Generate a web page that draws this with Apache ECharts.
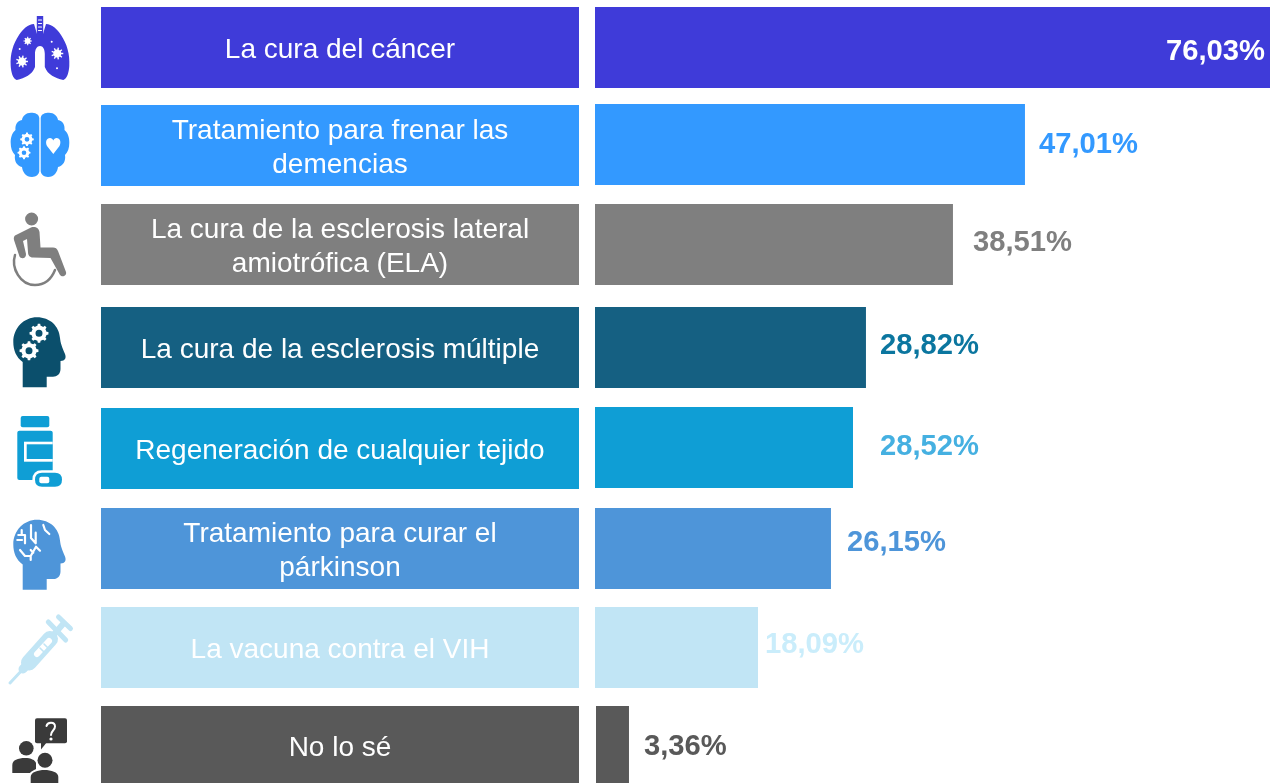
<!DOCTYPE html>
<html>
<head>
<meta charset="utf-8">
<title>La cura del cáncer</title>
<script src="https://cdn.jsdelivr.net/npm/echarts@6/dist/echarts.min.js"></script>
<style>
  html, body { margin: 0; padding: 0; background: #fff; }
  #chart { width: 1270px; height: 783px; }
</style>
</head>
<body>
<div id="chart"></div>
<script>
const categories = [
  'La cura del cáncer',
  'Tratamiento para frenar las\ndemencias',
  'La cura de la esclerosis lateral\namiotrófica (ELA)',
  'La cura de la esclerosis múltiple',
  'Regeneración de cualquier tejido',
  'Tratamiento para curar el\npárkinson',
  'La vacuna contra el VIH',
  'No lo sé'
]
// the printed percentages
const percentLabels = ['76,03%', '47,01%', '38,51%', '28,82%', '28,52%', '26,15%', '18,09%', '3,36%']
// bar lengths as drawn in the picture, they do not follow the printed numbers exactly
const barValues = [76.03, 48.43, 40.32, 30.52, 29.06, 26.58, 18.36, 3.72]
const axisMax = 76.03

// layout and colours per row
const panelTops = [7, 105, 204, 307, 408, 508, 607, 706]
const panelTextShifts = [3, 3, 3, 3, 3, 3, 3, 7] // the last grid gets cut at the page bottom
const barTops = [7, 104, 204, 307, 407, 508, 607, 706]
const barLefts = [595, 595, 595, 595, 595, 595, 595, 596]
const rowColors = ['#3f3bd9', '#3399ff', '#7f7f7f', '#156082', '#0f9ed5', '#4e95d9', '#c1e5f5', '#595959']
const labelColors = ['#ffffff', '#3399ff', '#7f7f7f', '#0b769f', '#45b0e1', '#4e95d9', '#caedfb', '#595959']
const labelGaps = [5, 14, 20, 14, 27, 16, 7, 15]
const labelShifts = [4, 0.5, -1.5, -1.5, -0.5, -6, -2.5, 2.5]

// icon helpers
const circle = (x, y, r) => `M${x - r} ${y}a${r} ${r} 0 1 0 ${2 * r} 0a${r} ${r} 0 1 0 ${-2 * r} 0Z`
const rrect = (x, y, w, h, r) =>
  `M${x + r} ${y}H${x + w - r}Q${x + w} ${y} ${x + w} ${y + r}V${y + h - r}Q${x + w} ${y + h} ${x + w - r} ${y + h}` +
  `H${x + r}Q${x} ${y + h} ${x} ${y + h - r}V${y + r}Q${x} ${y} ${x + r} ${y}Z`
const gear = (cx, cy, r, n, inner) => {
  let d = ''
  const step = Math.PI * 2 / n
  for (let i = 0; i < n; i++) {
    const a = i * step
    const pts = [[inner, a - step * 0.5], [inner, a - step * 0.27], [r, a - step * 0.16], [r, a + step * 0.16], [inner, a + step * 0.27]]
    pts.forEach((p, j) => {
      d += (i === 0 && j === 0 ? 'M' : 'L') + (cx + p[0] * Math.cos(p[1])).toFixed(2) + ' ' + (cy + p[0] * Math.sin(p[1])).toFixed(2)
    })
  }
  return d + 'Z'
}
const headPath = 'M22.7 387.3V362C16 357 13.3 350 13.3 342C13.3 328 24 317.3 37 317.3C50 317.3 59 326 60 338C60.5 343 62 347 65 354C66.5 358 65 361 60.5 361V369C60.5 374 57 376.7 53 376.7H46.7V387.3Z'

const fill = (d, color, y) => ({ d, fill: color, y: y || 0 })
const line = (d, color, width) => ({ d, stroke: color, width })

const iconLayers = [
  // lungs
  [
    fill('M46 24C52 24 57 29 61 35C67 44 70 54 69.3 66C69 72 67 79 63.3 80C55 78 48 75 44.8 67V54C44.8 49 43 46 40 46C37 46 35 49 35 54V67C32 75 25 78 16.7 80C13 79 11 72 10.7 66C10 54 13 44 19 35C23 29 28 24 34 24L37 34H43Z', '#3f3bd9'),
    fill('M36.8 16H43.2V38H36.8Z', '#3f3bd9'),
    line('M38.5 20H41.5M38.5 23.5H41.5M38.5 27H41.5M38.5 30.5H41.5', '#ffffff', 1.2),
    fill(gear(27.7, 41, 4.2, 8, 2.9), '#ffffff'),
    fill(gear(22, 61.5, 6, 9, 4), '#ffffff'),
    fill(gear(57.3, 53.5, 6, 9, 4), '#ffffff'),
    fill(circle(19.7, 49, 1) + circle(51.7, 41.7, 1) + circle(57, 68.3, 1), '#ffffff')
  ],
  // brain
  [
    fill('M39.3 118C39 114 35 112.7 31 112.7C26 112.7 22.5 116 22 120C17 121 15 125 15.5 130C12 133 10.5 138 10.7 143C10.7 148 12 152 15 155C14 161 17 166 22 167C22.5 172 26 177 32 177C36 177 39.3 174 39.3 171Z', '#3399ff'),
    fill('M40.7 118C41 114 45 112.7 49 112.7C54 112.7 57.5 116 58 120C63 121 65 125 64.5 130C68 133 69.5 138 69.3 143C69.3 148 68 152 65 155C66 161 63 166 58 167C57.5 172 54 177 48 177C44 177 40.7 174 40.7 171Z', '#3399ff'),
    fill(gear(27, 139.3, 6.8, 8, 5.4), '#ffffff'),
    fill(gear(24, 152.7, 6.5, 8, 5.2), '#ffffff'),
    fill(circle(27, 139.3, 2.4) + circle(24, 152.7, 2.3), '#3399ff'),
    fill('M53.3 154L47 146C45 142 46.5 138 50 138C51.5 138 52.8 139 53.3 140.5C53.8 139 55.1 138 56.6 138C60 138 61.5 142 59.5 146Z', '#ffffff')
  ],
  // wheelchair
  [
    fill(circle(31.6, 219, 6.5), '#7f7f7f'),
    fill('M15 235.5L31 227.5C35 226 39 228 39.5 232L40.5 247.5L53 247.5C55.5 247.5 57 248.5 58 251L66 272C67 275.5 62.5 278 60 275L50.5 258L33 257.5C29.5 257.5 28 255 28 252L27 239L23 241L26 254C26.5 258.5 21 259.5 19.5 256.5L14 240C13.5 238 14 236.5 15 235.5Z', '#7f7f7f'),
    line('M15 255C11 268 20 285 35 285C44 285 51 280 55 270', '#7f7f7f', 2.5)
  ],
  // head with gears
  [
    fill(headPath, '#0b4f6c'),
    fill(gear(39, 333.3, 9.5, 8, 7.6), '#ffffff'),
    fill(gear(29, 350.7, 9.5, 8, 7.6), '#ffffff'),
    fill(circle(39, 333.3, 3.5) + circle(29, 350.7, 3.5), '#0b4f6c')
  ],
  // pill bottle
  [
    fill(rrect(20.7, 416, 28.6, 11.3, 2), '#0f9ed5'),
    fill(rrect(17.3, 430.7, 35.4, 49.3, 2), '#0f9ed5'),
    fill('M24 441.7H52.7V461.7H24Z', '#ffffff'),
    fill('M26.7 444.3H52.7V459H26.7Z', '#0f9ed5'),
    fill(rrect(32.4, 470.2, 32.2, 19, 9.5), '#ffffff'),
    fill(rrect(35, 472.7, 27, 14, 7), '#0f9ed5'),
    fill(rrect(39.3, 476.7, 10, 6.6, 2), '#ffffff')
  ],
  // head with circuits
  [
    fill(headPath, '#4e95d9', 202.4),
    line('M31 525V538L35.7 543.3V532.7M18.3 535H25V543.3M21.7 530V535M17.3 540H22', '#ffffff', 2.2),
    line('M20 550L25 556H30.7L36 546.7L40 550.7M30.7 550L33.3 552.7M30.7 556V560M43.3 525L45 530L49.3 534', '#ffffff', 2.2)
  ],
  // syringe
  [
    line('M10 683L24 668', '#c1e5f5', 3),
    line('M23 669L30 661.5', '#c1e5f5', 9),
    line('M29 662.5L50 639', '#c1e5f5', 16),
    line('M50 639L63 624', '#c1e5f5', 6),
    line('M48.3 622L65.7 640', '#c1e5f5', 5),
    line('M58.5 617L70.5 628.5', '#c1e5f5', 5),
    line('M37 654L49 641', '#ffffff', 6),
    line('M40 648L43.5 651.5M44 644L47.5 647.5', '#c1e5f5', 1.6)
  ],
  // people with question
  [
    fill(rrect(35, 718.3, 32, 25, 2), '#3a3a3a'),
    fill('M41 742L41 749.5L47 742Z', '#3a3a3a'),
    line('M46.5 726C47.5 721.5 55 721.5 55 726.5C55 730.5 51 730.5 51 735', '#ffffff', 2),
    fill(circle(51, 739, 1.6), '#ffffff'),
    fill(circle(26.3, 748.3, 7.3), '#3a3a3a'),
    fill('M12.3 773V765C12.3 760 18 758 25 758C31 758 35 760 36 763V773Z', '#3a3a3a'),
    fill(circle(45, 760.3, 9) + 'M28.5 785V777C28.5 771 37 767.7 44.5 767.7C52 767.7 60.5 771 60.5 777V785Z', '#ffffff'),
    fill(circle(45, 760.3, 7.5), '#3a3a3a'),
    fill('M30.7 785V777C30.7 772 38 770 44.5 770C51 770 58.3 772 58.3 777V785Z', '#3a3a3a')
  ]
]

const labelFont = 'Liberation Sans'
const rowCount = categories.length
const grids = []
const xAxes = []
const yAxes = []
const series = []
const panels = []

for (let i = 0; i < rowCount; i++) {
  // left column: coloured box, the category text sits a little below its middle
  panels.push({
    type: 'rect',
    z: -1,
    shape: { x: 101, y: panelTops[i], width: 478, height: 81 },
    style: { fill: rowColors[i] }
  })
  const textTop = panelTops[i] + panelTextShifts[i]
  grids.push({ left: 340, top: textTop, width: 1, height: Math.min(81, 783 - textTop) })
  xAxes.push({ gridIndex: grids.length - 1, type: 'value', min: 0, max: 1, show: false })
  yAxes.push({
    gridIndex: grids.length - 1,
    type: 'category',
    data: [categories[i]],
    axisLine: { show: false },
    axisTick: { show: false },
    axisLabel: {
      margin: 0,
      align: 'center',
      verticalAlign: 'middle',
      lineHeight: 34,
      color: '#ffffff',
      fontFamily: labelFont,
      fontSize: 28
    }
  })

  // right column: the bar with its percentage
  grids.push({ left: barLefts[i], top: barTops[i], width: 675, height: 81 })
  xAxes.push({ gridIndex: grids.length - 1, type: 'value', min: 0, max: axisMax, show: false })
  yAxes.push({ gridIndex: grids.length - 1, type: 'category', data: [categories[i]], show: false })
  series.push({
    type: 'bar',
    xAxisIndex: grids.length - 1,
    yAxisIndex: grids.length - 1,
    data: [barValues[i]],
    barWidth: 81,
    itemStyle: { color: rowColors[i] },
    label: {
      show: true,
      position: i === 0 ? 'insideRight' : 'right',
      distance: labelGaps[i],
      offset: [0, labelShifts[i]],
      formatter: () => percentLabels[i],
      color: labelColors[i],
      fontFamily: labelFont,
      fontWeight: 'bold',
      fontSize: 29.2
    }
  })
}

// icons on the left
series.push({
  type: 'custom',
  coordinateSystem: 'none',
  silent: true,
  data: iconLayers.map((_, i) => i),
  renderItem: params => ({
    type: 'group',
    children: iconLayers[params.dataIndex].map(layer => ({
      type: 'path',
      y: layer.y || 0,
      shape: { pathData: layer.d },
      style: layer.stroke
        ? { fill: 'none', stroke: layer.stroke, lineWidth: layer.width, lineCap: 'round', lineJoin: 'round' }
        : { fill: layer.fill }
    }))
  })
})

const chart = echarts.init(document.getElementById('chart'))
chart.setOption({
  animation: false,
  backgroundColor: '#ffffff',
  graphic: panels,
  grid: grids,
  xAxis: xAxes,
  yAxis: yAxes,
  series
})
</script>
</body>
</html>
